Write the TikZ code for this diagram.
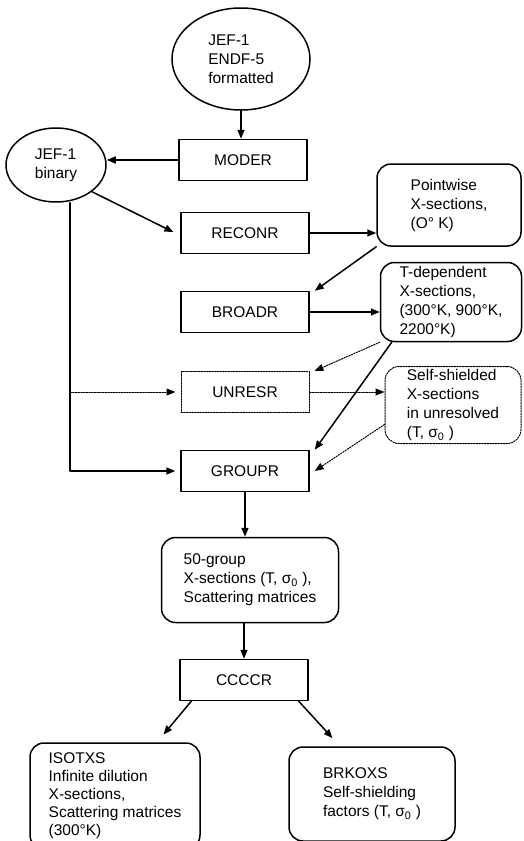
\documentclass[tikz,border=0pt]{standalone}
\usepackage{fontspec}
\setmainfont{Liberation Sans}
\usetikzlibrary{arrows.meta, calc, shapes.geometric}

\begin{document}
\begin{tikzpicture}[x=1pt, y=-1pt, line cap=round, line join=round, >={Triangle[length=9pt,width=7pt]},
	font=\fontsize{15.5}{19}\selectfont,
	prog/.style={draw, rectangle, line width=1.5pt, minimum width=128pt, minimum height=41pt, inner sep=0pt},
	datbox/.style={draw, rectangle, rounded corners=14pt, line width=1.5pt, align=left, inner sep=0pt},
	fileell/.style={draw, ellipse, line width=1.5pt, align=left, inner sep=0pt},
	flow/.style={->, line width=1.5pt},
	dotflow/.style={->, line width=1pt, dash pattern=on 1.5pt off 1.2pt}]

		\useasboundingbox (0,0) rectangle (523,841);

		% input and binary files
		\node [fileell, minimum width=138pt, minimum height=102pt] (endf) at (241,59) {JEF-1\\ENDF-5\\formatted};
		\node [fileell, minimum width=100pt, minimum height=74pt] (binary) at (56,165) {JEF-1\\binary};

		% NJOY modules
		\node [prog] (moder) at (243,160) {MODER};
		\node [prog] (reconr) at (245,233) {RECONR};
		\node [prog] (broadr) at (245,312) {BROADR};
		\node [prog, line width=1pt, dash pattern=on 1.5pt off 1.2pt] (unresr) at (245,392) {UNRESR};
		\node [prog] (groupr) at (245,471) {GROUPR};
		\node [prog] (ccccr) at (244,680) {CCCCR};

		% intermediate data
		\node [datbox, minimum width=144pt, minimum height=82pt] (pointw) at (449,205) {Pointwise\\X-sections,\\(O° K)};
		\node [datbox, minimum width=141pt, minimum height=79pt] (tdep) at (451,302) {T-dependent\\X-sections,\\(300°K, 900°K,\\2200°K)};
		\node [datbox, minimum width=136pt, minimum height=77pt, line width=1pt, dash pattern=on 1.5pt off 1.2pt] (selfsh) at (453,405) {Self-shielded\\X-sections\\in unresolved\\(T, σ\textsubscript{0} )};
		\node [datbox, minimum width=177pt, minimum height=85pt] (group50) at (250,580) {50-group\\X-sections (T, σ\textsubscript{0} ),\\Scattering matrices};

		% output files
		\node [datbox, minimum width=170pt, minimum height=106pt, font=\fontsize{15.5}{18}\selectfont] (isotxs) at (115,796) {ISOTXS\\Infinite dilution\\X-sections,\\Scattering matrices\\(300°K)};
		\node [datbox, minimum width=166pt, minimum height=94pt] (brkoxs) at (372,794) {BRKOXS\\Self-shielding\\factors (T, σ\textsubscript{0} )};

		\coordinate (bus) at (70,0);

		% main chain
		\draw [flow] (endf.south) -- (endf.south |- moder.north);
		\draw [flow] (moder.west) -- (moder.west -| binary.east);
		\draw [flow, shorten >=2pt] (binary.south east) -- ([xshift=-5pt]reconr.west);
		\draw [flow] (reconr.east) -- (reconr.east -| pointw.west);
		\draw [flow] (pointw.south west) -- ([xshift=5pt]broadr.north east);
		\draw [flow] (broadr.east) -- (broadr.east -| tdep.west);
		\draw [dotflow] (tdep.south west) -- ([xshift=5pt]unresr.north east);
		\draw [flow] ([xshift=12pt]tdep.south west) -- ([xshift=5pt]groupr.north east);
		\draw [dotflow] (unresr.east) -- (unresr.east -| selfsh.west);
		\draw [dotflow] ($(selfsh.south west)!0.25!(selfsh.north west)$) -- ([xshift=5pt]groupr.east);

		% binary file feeds UNRESR and GROUPR
		\draw [flow, shorten >=5pt] (binary.south -| bus) |- (groupr.west);
		\draw [dotflow, shorten >=5pt] (unresr.west -| bus) -- (unresr.west);

		\draw [flow] (groupr.south) -- (groupr.south |- group50.north);
		\draw [flow] (ccccr.north |- group50.south) -- (ccccr.north);
		\draw [flow, shorten >=10pt] ([xshift=12pt]ccccr.south west) -- ([xshift=42pt]isotxs.north);
		\draw [flow, shorten >=11pt] ([xshift=-10pt]ccccr.south east) -- ([xshift=-32pt]brkoxs.north);
\end{tikzpicture}
\end{document}
